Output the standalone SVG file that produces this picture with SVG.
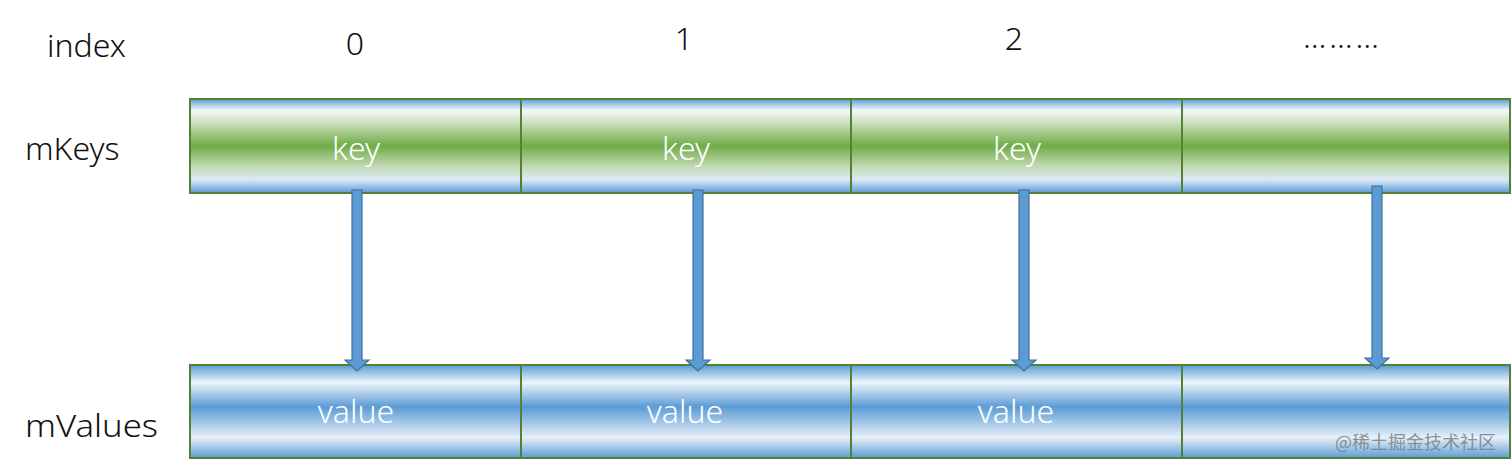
<svg xmlns="http://www.w3.org/2000/svg" width="1512" height="469" viewBox="0 0 1512 469">
<style>
.lbl{font-family:"Noto Sans","Liberation Sans",sans-serif;font-size:32px;font-weight:300;fill:#111}
.cell{stroke:#548235;stroke-width:2}
.in{font-family:"Noto Sans","Liberation Sans",sans-serif;font-size:32px;font-weight:300;fill:#ffffff;text-anchor:middle}
.arr{fill:#5b9bd5;stroke:#41719c;stroke-width:1.2}
.wm{font-family:"Noto Sans CJK SC","Noto Sans",sans-serif;font-size:18px;fill:#7d838b;fill-opacity:0.9}
</style>
<defs>
<linearGradient id="gk" x1="0" y1="0" x2="0" y2="1">
<stop offset="0" stop-color="#5b9bd5"/>
<stop offset="0.12" stop-color="#f4f8fb"/>
<stop offset="0.27" stop-color="#c6dcb6"/>
<stop offset="0.5" stop-color="#6fac46"/>
<stop offset="0.72" stop-color="#c3dab5"/>
<stop offset="0.86" stop-color="#dce9f6"/>
<stop offset="1" stop-color="#5b9bd5"/>
</linearGradient>
<linearGradient id="gv" x1="0" y1="0" x2="0" y2="1">
<stop offset="0" stop-color="#5b9bd5"/>
<stop offset="0.19" stop-color="#eef4fb"/>
<stop offset="0.45" stop-color="#5b9bd5"/>
<stop offset="0.78" stop-color="#e8f0f9"/>
<stop offset="1" stop-color="#5b9bd5"/>
</linearGradient>
</defs>
<rect width="1512" height="469" fill="#ffffff"/>
<g id="labels">
<text class="lbl" x="47" y="57">index</text>
<text class="lbl" x="25" y="160">mKeys</text>
<text class="lbl" x="25" y="437" textLength="133" lengthAdjust="spacingAndGlyphs">mValues</text>
<text class="lbl" x="355" y="55" font-size="31" text-anchor="middle">0</text>
<text class="lbl" x="684" y="50" font-size="35" text-anchor="middle">1</text>
<text class="lbl" x="1014" y="50" font-size="35" text-anchor="middle">2</text>
<text class="lbl" x="1303" y="48" font-size="20" font-weight="700" textLength="76" lengthAdjust="spacing">………</text>
</g>
<g id="key0"><rect class="cell" x="190" y="99" width="331" height="94" fill="url(#gk)"/><text class="in" x="356" y="160">key</text></g>
<g id="key1"><rect class="cell" x="521" y="99" width="330" height="94" fill="url(#gk)"/><text class="in" x="686" y="160">key</text></g>
<g id="key2"><rect class="cell" x="851" y="99" width="331" height="94" fill="url(#gk)"/><text class="in" x="1017" y="160">key</text></g>
<g id="key3"><rect class="cell" x="1182" y="99" width="328" height="94" fill="url(#gk)"/></g>
<g id="val0"><rect class="cell" x="190" y="365" width="331" height="93" fill="url(#gv)"/><text class="in" x="356" y="423">value</text></g>
<g id="val1"><rect class="cell" x="521" y="365" width="330" height="93" fill="url(#gv)"/><text class="in" x="685" y="423">value</text></g>
<g id="val2"><rect class="cell" x="851" y="365" width="331" height="93" fill="url(#gv)"/><text class="in" x="1016" y="423">value</text></g>
<g id="val3"><rect class="cell" x="1182" y="365" width="328" height="93" fill="url(#gv)"/></g>
<g id="connectors">
<path class="arr" d="M352,190 H362 V360 H369 L357,371 L345,360 H352 Z"/>
<path class="arr" d="M693,190 H703 V360 H710 L698,371 L686,360 H693 Z"/>
<path class="arr" d="M1019,190 H1029 V360 H1036 L1024,371 L1012,360 H1019 Z"/>
<path class="arr" d="M1372,186 H1382 V358 H1389 L1377,369 L1365,358 H1372 Z"/>
</g>
<text class="wm" x="1335" y="449">@稀土掘金技术社区</text>
</svg>
